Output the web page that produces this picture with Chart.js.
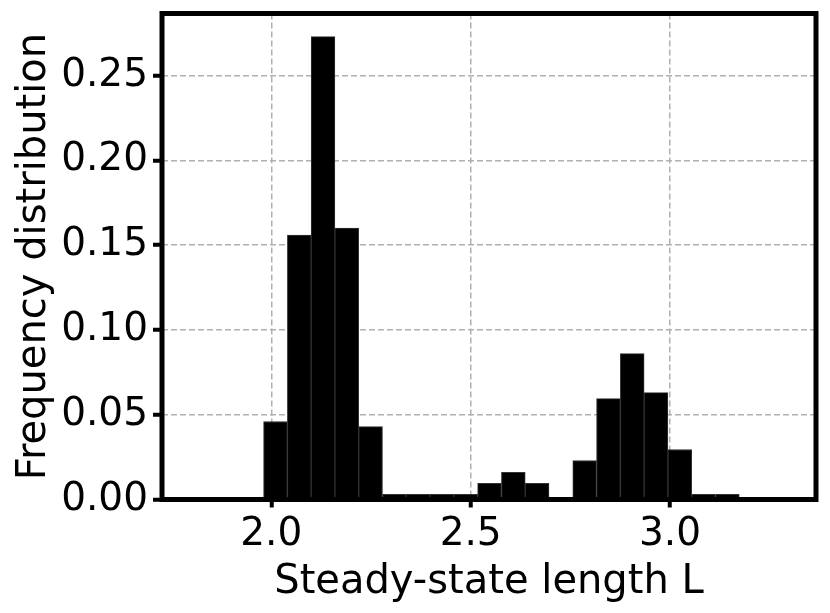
<!DOCTYPE html>
<html>
<head>
<meta charset="utf-8">
<script src="https://cdn.jsdelivr.net/npm/chart.js@4.4.0/dist/chart.umd.min.js"></script>
<style>
  body { margin: 0; background: #fff; }
  #wrap { width: 830px; height: 613px; }
</style>
</head>
<body>
<div id="wrap"><canvas id="histChart" width="830" height="613"></canvas></div>
<script>
// histogram bins (centres) and their heights
const binCenters = [2.0105, 2.0702, 2.1298, 2.1894, 2.2491, 2.3087, 2.3684, 2.4280, 2.4877, 2.5473,
                    2.6070, 2.6666, 2.7262, 2.7859, 2.8455, 2.9052, 2.9648, 3.0245, 3.0841, 3.1437];
const freq = [0.046, 0.156, 0.273, 0.160, 0.043, 0.003, 0.003, 0.003, 0.003, 0.0095,
              0.016, 0.0095, 0.0, 0.023, 0.0595, 0.086, 0.063, 0.0295, 0.003, 0.003];
const xTicks = [2.0, 2.5, 3.0];
const yTicks = [0.00, 0.05, 0.10, 0.15, 0.20, 0.25];

const FONT = 'DejaVu Sans';

// draws the four thick black spines over the bars
const frame = {
    id: 'frame',
    afterDatasetsDraw(chart) {
        const a = chart.chartArea;
        const c = chart.ctx;
        c.save();
        c.strokeStyle = '#000';
        c.lineWidth = 5;
        c.strokeRect(a.left, a.top, a.right - a.left, a.bottom - a.top);
        c.restore();
    }
};

// no extra room for half labels at the ends of the axes
function noPad(s) {
    s.paddingTop = 0;
    s.paddingBottom = 0;
    s.paddingLeft = 0;
    s.paddingRight = 0;
}

var ctx = document.getElementById('histChart').getContext('2d');
var histChart = new Chart(ctx, {
    type: 'bar',
    data: {
        datasets: [{
            data: binCenters.map((x, i) => ({ x: x, y: freq[i] })),
            backgroundColor: '#000',
            borderColor: '#333',
            borderWidth: 1,
            barPercentage: 1.0,
            categoryPercentage: 1.0
        }]
    },
    options: {
        responsive: false,
        animation: false,
        layout: { padding: { top: 13.5, right: 14, left: 0, bottom: 0 } },
        plugins: {
            legend: { display: false },
            tooltip: { enabled: false }
        },
        scales: {
            x: {
                type: 'linear',
                offset: false,
                min: 1.726,
                max: 3.366,
                afterBuildTicks: s => { s.ticks = xTicks.map(v => ({ value: v })); },
                afterFit: s => { s.height = 113.5; noPad(s); },
                grid: {
                    offset: false,
                    color: '#b0b0b0',
                    lineWidth: 1.5,
                    tickColor: '#000',
                    tickWidth: 4,
                    tickLength: 8,
                    tickBorderDash: []
                },
                border: { display: false, dash: [6, 3] },
                ticks: {
                    autoSkip: false,
                    color: '#000',
                    font: { family: FONT, size: 39 },
                    padding: 4,
                    maxRotation: 0,
                    callback: v => v.toFixed(1)
                },
                title: {
                    display: true,
                    text: 'Steady-state length L',
                    color: '#000',
                    font: { family: FONT, size: 40 },
                    padding: { top: 0, bottom: 6 }
                }
            },
            y: {
                min: 0,
                max: 0.2866,
                afterBuildTicks: s => { s.ticks = yTicks.map(v => ({ value: v })); },
                afterFit: s => { s.width = 162; noPad(s); },
                grid: {
                    color: '#b0b0b0',
                    lineWidth: 1.5,
                    tickColor: '#000',
                    tickWidth: 4,
                    tickLength: 9,
                    tickBorderDash: []
                },
                border: { display: false, dash: [6, 3] },
                ticks: {
                    autoSkip: false,
                    color: '#000',
                    font: { family: FONT, size: 39 },
                    padding: 5,
                    callback: v => v.toFixed(2)
                },
                title: {
                    display: true,
                    text: 'Frequency distribution',
                    color: '#000',
                    font: { family: FONT, size: 40 },
                    padding: { top: 11, bottom: 0 }
                }
            }
        }
    },
    plugins: [frame]
});
</script>
</body>
</html>
